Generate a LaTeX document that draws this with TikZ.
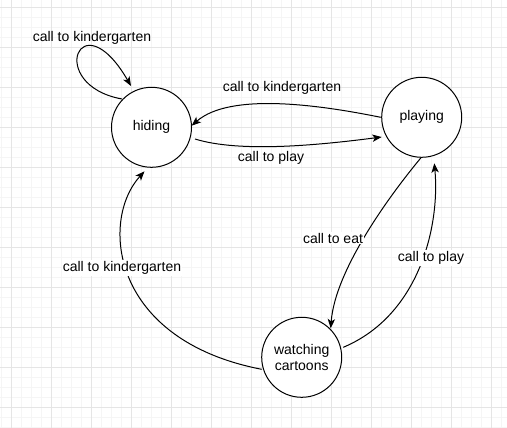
\documentclass[tikz,border=0pt]{standalone}
\usepackage{fontspec}
\setmainfont{Liberation Sans}
\usetikzlibrary{calc,arrows.meta}
\tikzset{
  state/.style={circle,draw=black,line width=0.75pt,minimum size=60pt,inner sep=0pt,fill=white,align=center,font=\fontsize{10.5}{11.8}\selectfont},
  conn/.style={draw=black,line width=0.75pt,-{Stealth[length=7pt,width=5.5pt,inset=1.8pt]}},
  lbl/.style={font=\fontsize{10.5}{12}\selectfont,inner sep=1pt},
  lblw/.style={lbl,fill=white},
  minorgrid/.style={draw=gray!8,line width=0.75pt},
  majorgrid/.style={draw=gray!20,line width=0.75pt}
}
\begin{document}
\begin{tikzpicture}[x=0.75pt,y=-0.75pt]
\useasboundingbox (0,0) rectangle (507,428);
\fill[white] (0,0) rectangle (507,428);
% grid
\foreach \x in {1.7,11.7,...,501.7} \draw[minorgrid] (\x,0) -- (\x,428);
\foreach \y in {7.3,17.3,...,427.3} \draw[minorgrid] (0,\y) -- (507,\y);
\foreach \x in {11.7,51.7,...,491.7} \draw[majorgrid] (\x,0) -- (\x,428);
\foreach \y in {7.3,47.3,...,407.3} \draw[majorgrid] (0,\y) -- (507,\y);
% states
\node[state] (hiding) at (151.5,127.3) {hiding};
\node[state] (playing) at (421.7,117.3) {playing};
\node[state] (watching) at (301.7,357.3) {watching\\cartoons};
% connectors
\draw[conn] ($(hiding)+(-29.5,-28.3)$) .. controls (45,85) and (80,-2) .. ($(hiding)+(-20.5,-41.3)$);
\draw[conn] ($(playing)+(-41,0)$) .. controls (320,105) and (230,92) .. ($(hiding)+(40.2,-1.6)$);
\draw[conn] ($(hiding)+(43.5,11.7)$) .. controls (240,153) and (320,145) .. ($(playing)+(-40,19.7)$);
\draw[conn] ($(playing)+(-0.7,40.4)$) .. controls (390,195) and (335,270) .. ($(watching)+(29,-29)$);
\draw[conn] ($(watching)+(41.6,-10)$) .. controls (420,315) and (440,225) .. ($(playing)+(12.6,46)$);
\draw[conn] ($(watching)+(-40,12)$) .. controls (110,340) and (100,220) .. ($(hiding)+(-7,44)$);
% labels
\node[lbl] (l1) at (92,38) {call to kindergarten};
\node[lbl] (l2) at (282,88) {call to kindergarten};
\node[lbl] (l3) at (271,158) {call to play};
\node[lblw] (l4) at (333,238) {call to eat};
\node[lblw] (l5) at (431,258) {call to play};
\node[lblw] (l6) at (122,268) {call to kindergarten};
\end{tikzpicture}
\end{document}
